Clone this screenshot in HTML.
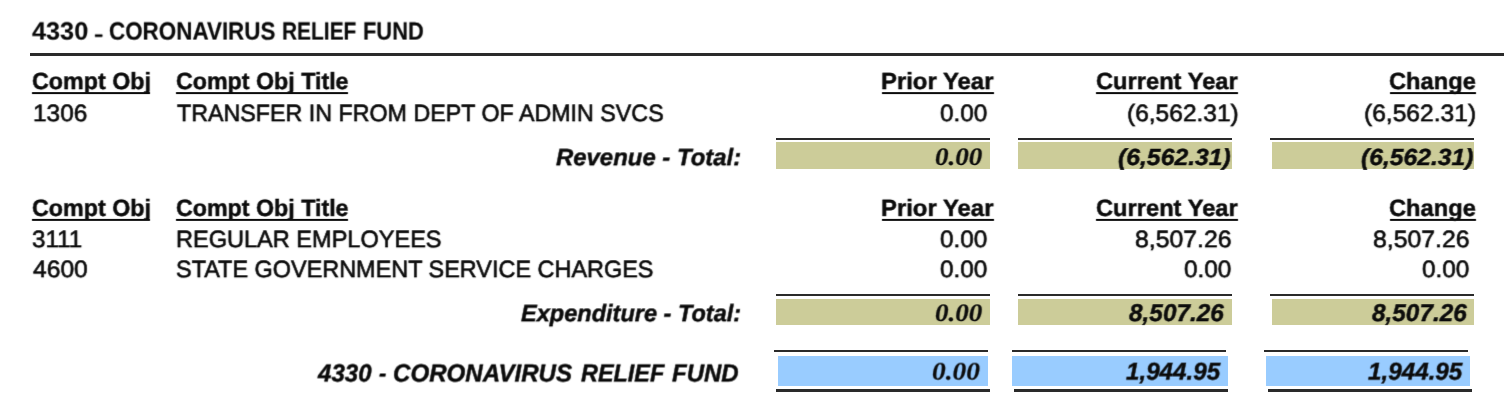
<!DOCTYPE html>
<html lang="en"><head><meta charset="utf-8"><title>4330 - CORONAVIRUS RELIEF FUND</title>
<style>
html,body{margin:0;padding:0;background:#fff;overflow:hidden}
#pg{position:relative;width:1504px;height:412px;overflow:hidden;background:#fff}
#pg s{position:absolute;display:block;text-decoration:none}
#pg b{display:inline-block;font-weight:inherit;transform-origin:0 0}
#pg div{position:absolute;left:0;top:0;width:1504px;height:412px}
#pg span{position:absolute;white-space:pre;transform-origin:0 0;line-height:1;color:#0b0b0b;font-kerning:none;text-rendering:geometricPrecision}
</style></head><body>
<svg width="0" height="0" style="position:absolute"><defs>
<filter id="v0" x="0" y="0" width="100%" height="100%" color-interpolation-filters="sRGB"><feConvolveMatrix order="3 2" kernelMatrix="0.1400 0.7200 0.1400 0.0000 0.0000 0.0000" targetX="1" targetY="1" edgeMode="none" preserveAlpha="false"/></filter>
<filter id="v1" x="0" y="0" width="100%" height="100%" color-interpolation-filters="sRGB"><feConvolveMatrix order="3 2" kernelMatrix="0.1260 0.6480 0.1260 0.0140 0.0720 0.0140" targetX="1" targetY="1" edgeMode="none" preserveAlpha="false"/></filter>
<filter id="v2" x="0" y="0" width="100%" height="100%" color-interpolation-filters="sRGB"><feConvolveMatrix order="3 2" kernelMatrix="0.1120 0.5760 0.1120 0.0280 0.1440 0.0280" targetX="1" targetY="1" edgeMode="none" preserveAlpha="false"/></filter>
<filter id="v3" x="0" y="0" width="100%" height="100%" color-interpolation-filters="sRGB"><feConvolveMatrix order="3 2" kernelMatrix="0.0980 0.5040 0.0980 0.0420 0.2160 0.0420" targetX="1" targetY="1" edgeMode="none" preserveAlpha="false"/></filter>
<filter id="v5" x="0" y="0" width="100%" height="100%" color-interpolation-filters="sRGB"><feConvolveMatrix order="3 2" kernelMatrix="0.0700 0.3600 0.0700 0.0700 0.3600 0.0700" targetX="1" targetY="1" edgeMode="none" preserveAlpha="false"/></filter>
<filter id="v6" x="0" y="0" width="100%" height="100%" color-interpolation-filters="sRGB"><feConvolveMatrix order="3 2" kernelMatrix="0.0560 0.2880 0.0560 0.0840 0.4320 0.0840" targetX="1" targetY="1" edgeMode="none" preserveAlpha="false"/></filter>
<filter id="v9" x="0" y="0" width="100%" height="100%" color-interpolation-filters="sRGB"><feConvolveMatrix order="3 2" kernelMatrix="0.0140 0.0720 0.0140 0.1260 0.6480 0.1260" targetX="1" targetY="1" edgeMode="none" preserveAlpha="false"/></filter>
</defs></svg>
<div id="pg">
<s style="left:30.20px;top:53.45px;width:1473.80px;height:2.60px;background:#2a2a2a"></s>
<s style="left:775.75px;top:137.60px;width:214.25px;height:2.60px;background:#2a2a2a"></s>
<s style="left:776.00px;top:142.25px;width:214.00px;height:27.00px;background:#cccc99"></s>
<s style="left:1017.75px;top:137.60px;width:214.00px;height:2.60px;background:#2a2a2a"></s>
<s style="left:1018.00px;top:142.25px;width:213.75px;height:27.00px;background:#cccc99"></s>
<s style="left:1270.25px;top:137.60px;width:204.00px;height:2.60px;background:#2a2a2a"></s>
<s style="left:1272.25px;top:142.25px;width:202.00px;height:27.00px;background:#cccc99"></s>
<s style="left:775.75px;top:293.60px;width:214.25px;height:2.60px;background:#2a2a2a"></s>
<s style="left:776.00px;top:298.50px;width:214.00px;height:26.70px;background:#cccc99"></s>
<s style="left:1017.75px;top:293.60px;width:214.00px;height:2.60px;background:#2a2a2a"></s>
<s style="left:1018.00px;top:298.50px;width:213.75px;height:26.70px;background:#cccc99"></s>
<s style="left:1270.25px;top:293.60px;width:204.00px;height:2.60px;background:#2a2a2a"></s>
<s style="left:1272.25px;top:298.50px;width:202.00px;height:26.70px;background:#cccc99"></s>
<s style="left:774.00px;top:349.70px;width:214.25px;height:2.60px;background:#2a2a2a"></s>
<s style="left:778.25px;top:356.00px;width:209.50px;height:29.50px;background:#99ccff"></s>
<s style="left:775.75px;top:389.45px;width:214.25px;height:2.60px;background:#2a2a2a"></s>
<s style="left:1012.00px;top:349.70px;width:214.00px;height:2.60px;background:#2a2a2a"></s>
<s style="left:1012.00px;top:356.00px;width:216.00px;height:29.50px;background:#99ccff"></s>
<s style="left:1014.00px;top:389.45px;width:214.00px;height:2.60px;background:#2a2a2a"></s>
<s style="left:1264.25px;top:349.70px;width:203.75px;height:2.60px;background:#2a2a2a"></s>
<s style="left:1266.25px;top:356.00px;width:203.75px;height:29.50px;background:#99ccff"></s>
<s style="left:1268.00px;top:389.45px;width:204.00px;height:2.60px;background:#2a2a2a"></s>
<div style="filter:url(#v6)">
<span style="left:31.95px;top:19.02px;-webkit-text-stroke:0.15px #0b0b0b;font:700 24.93px/1 'Liberation Sans', Arial, Helvetica, sans-serif"><b style="width:61.92px;transform:scaleX(1.0138)">4330 </b><b style="width:15.06px;transform:scaleX(1.4667);font-size:19.00px;-webkit-text-stroke-width:0.3px;position:relative;top:1px">- </b><b style="width:173.42px;transform:scaleX(0.8992)">CORONAVIRUS </b><b style="width:81.04px;transform:scaleX(0.8394)">RELIEF </b><b style="transform:scaleX(0.8779)">FUND</b></span>
</div>
<div style="filter:url(#v1)">
<span style="left:31.76px;top:69.95px;-webkit-text-stroke:0.45px #0b0b0b;font:700 23.47px/1 'Liberation Sans', Arial, Helvetica, sans-serif;transform:scaleX(0.9915)">Compt Obj</span>
<s style="left:32.20px;top:92.00px;width:117.60px;height:2px;background:#0b0b0b"></s>
<span style="left:175.51px;top:69.95px;-webkit-text-stroke:0.45px #0b0b0b;font:700 23.47px/1 'Liberation Sans', Arial, Helvetica, sans-serif;transform:scaleX(0.9899)">Compt Obj Title</span>
<s style="left:175.95px;top:92.00px;width:171.85px;height:2px;background:#0b0b0b"></s>
<span style="left:881.23px;top:69.95px;-webkit-text-stroke:0.45px #0b0b0b;font:700 23.47px/1 'Liberation Sans', Arial, Helvetica, sans-serif;transform:scaleX(1.0178)">Prior Year</span>
<s style="left:882.20px;top:92.00px;width:111.80px;height:2px;background:#0b0b0b"></s>
<span style="left:1095.54px;top:69.95px;-webkit-text-stroke:0.45px #0b0b0b;font:700 23.47px/1 'Liberation Sans', Arial, Helvetica, sans-serif;transform:scaleX(1.0089)">Current Year</span>
<s style="left:1096.00px;top:92.00px;width:141.60px;height:2px;background:#0b0b0b"></s>
<span style="left:1389.24px;top:69.95px;-webkit-text-stroke:0.45px #0b0b0b;font:700 23.47px/1 'Liberation Sans', Arial, Helvetica, sans-serif;transform:scaleX(1.0088)">Change</span>
<s style="left:1389.70px;top:92.00px;width:86.10px;height:2px;background:#0b0b0b"></s>
</div>
<div style="filter:url(#v2)">
<span style="left:33.46px;top:101.95px;-webkit-text-stroke:0.6px #0b0b0b;font:400 23.84px/1 'Liberation Sans', Arial, Helvetica, sans-serif;transform:scaleX(1.0246)">1306</span>
<span style="left:177.01px;top:101.95px;-webkit-text-stroke:0.6px #0b0b0b;font:400 23.84px/1 'Liberation Sans', Arial, Helvetica, sans-serif;transform:scaleX(0.9759)">TRANSFER IN FROM DEPT OF ADMIN SVCS</span>
<span style="left:940.24px;top:101.95px;-webkit-text-stroke:0.6px #0b0b0b;font:400 23.84px/1 'Liberation Sans', Arial, Helvetica, sans-serif;transform:scaleX(1.0221)">0.00</span>
<span style="left:1126.57px;top:101.95px;-webkit-text-stroke:0.6px #0b0b0b;font:400 23.84px/1 'Liberation Sans', Arial, Helvetica, sans-serif;transform:scaleX(1.0291)">(6,562.31)</span>
<span style="left:1364.27px;top:101.95px;-webkit-text-stroke:0.6px #0b0b0b;font:400 23.84px/1 'Liberation Sans', Arial, Helvetica, sans-serif;transform:scaleX(1.0319)">(6,562.31)</span>
</div>
<div style="filter:url(#v3)">
<span style="left:555.50px;top:146.01px;-webkit-text-stroke:0.45px #0b0b0b;font:italic 700 23.76px/1 'Liberation Sans', Arial, Helvetica, sans-serif;transform:scaleX(1.0068)">Revenue - Total:</span>
</div>
<div style="filter:url(#v0)">
<span style="left:934.94px;top:145.03px;-webkit-text-stroke:0.2px #0b0b0b;font:italic 700 25.20px/1 'Liberation Serif', 'Times New Roman', serif;transform:scaleX(1.0756)">0.00</span>
<span style="left:1118.22px;top:145.96px;-webkit-text-stroke:0.45px #0b0b0b;font:italic 700 23.18px/1 'Liberation Sans', Arial, Helvetica, sans-serif;transform:scaleX(1.0678)">(6,562.31)</span>
<span style="left:1360.97px;top:145.96px;-webkit-text-stroke:0.45px #0b0b0b;font:italic 700 23.18px/1 'Liberation Sans', Arial, Helvetica, sans-serif;transform:scaleX(1.0644)">(6,562.31)</span>
</div>
<div style="filter:url(#v9)">
<span style="left:31.76px;top:195.95px;-webkit-text-stroke:0.45px #0b0b0b;font:700 23.47px/1 'Liberation Sans', Arial, Helvetica, sans-serif;transform:scaleX(0.9915)">Compt Obj</span>
<s style="left:32.20px;top:218.00px;width:117.60px;height:2px;background:#0b0b0b"></s>
<span style="left:175.51px;top:195.95px;-webkit-text-stroke:0.45px #0b0b0b;font:700 23.47px/1 'Liberation Sans', Arial, Helvetica, sans-serif;transform:scaleX(0.9899)">Compt Obj Title</span>
<s style="left:175.95px;top:218.00px;width:171.85px;height:2px;background:#0b0b0b"></s>
<span style="left:881.23px;top:195.95px;-webkit-text-stroke:0.45px #0b0b0b;font:700 23.47px/1 'Liberation Sans', Arial, Helvetica, sans-serif;transform:scaleX(1.0178)">Prior Year</span>
<s style="left:882.20px;top:218.00px;width:111.80px;height:2px;background:#0b0b0b"></s>
<span style="left:1095.54px;top:195.95px;-webkit-text-stroke:0.45px #0b0b0b;font:700 23.47px/1 'Liberation Sans', Arial, Helvetica, sans-serif;transform:scaleX(1.0089)">Current Year</span>
<s style="left:1096.00px;top:218.00px;width:141.60px;height:2px;background:#0b0b0b"></s>
<span style="left:1389.24px;top:195.95px;-webkit-text-stroke:0.45px #0b0b0b;font:700 23.47px/1 'Liberation Sans', Arial, Helvetica, sans-serif;transform:scaleX(1.0088)">Change</span>
<s style="left:1389.70px;top:218.00px;width:86.10px;height:2px;background:#0b0b0b"></s>
</div>
<div style="filter:url(#v2)">
<span style="left:32.49px;top:227.95px;-webkit-text-stroke:0.6px #0b0b0b;font:400 23.84px/1 'Liberation Sans', Arial, Helvetica, sans-serif;transform:scaleX(1.0155)">3111</span>
<span style="left:176.02px;top:227.95px;-webkit-text-stroke:0.6px #0b0b0b;font:400 23.84px/1 'Liberation Sans', Arial, Helvetica, sans-serif;transform:scaleX(0.9878)">REGULAR EMPLOYEES</span>
<span style="left:940.24px;top:227.95px;-webkit-text-stroke:0.6px #0b0b0b;font:400 23.84px/1 'Liberation Sans', Arial, Helvetica, sans-serif;transform:scaleX(1.0221)">0.00</span>
<span style="left:1135.22px;top:227.95px;-webkit-text-stroke:0.6px #0b0b0b;font:400 23.84px/1 'Liberation Sans', Arial, Helvetica, sans-serif;transform:scaleX(1.0411)">8,507.26</span>
<span style="left:1373.22px;top:227.95px;-webkit-text-stroke:0.6px #0b0b0b;font:400 23.84px/1 'Liberation Sans', Arial, Helvetica, sans-serif;transform:scaleX(1.0411)">8,507.26</span>
</div>
<div style="filter:url(#v2)">
<span style="left:32.74px;top:257.95px;-webkit-text-stroke:0.6px #0b0b0b;font:400 23.84px/1 'Liberation Sans', Arial, Helvetica, sans-serif;transform:scaleX(1.0335)">4600</span>
<span style="left:176.26px;top:257.95px;-webkit-text-stroke:0.6px #0b0b0b;font:400 23.84px/1 'Liberation Sans', Arial, Helvetica, sans-serif;transform:scaleX(0.9835)">STATE GOVERNMENT SERVICE CHARGES</span>
<span style="left:940.24px;top:257.95px;-webkit-text-stroke:0.6px #0b0b0b;font:400 23.84px/1 'Liberation Sans', Arial, Helvetica, sans-serif;transform:scaleX(1.0221)">0.00</span>
<span style="left:1184.24px;top:257.95px;-webkit-text-stroke:0.6px #0b0b0b;font:400 23.84px/1 'Liberation Sans', Arial, Helvetica, sans-serif;transform:scaleX(1.0221)">0.00</span>
<span style="left:1422.24px;top:257.95px;-webkit-text-stroke:0.6px #0b0b0b;font:400 23.84px/1 'Liberation Sans', Arial, Helvetica, sans-serif;transform:scaleX(1.0221)">0.00</span>
</div>
<div style="filter:url(#v3)">
<span style="left:521.25px;top:302.01px;-webkit-text-stroke:0.45px #0b0b0b;font:italic 700 23.76px/1 'Liberation Sans', Arial, Helvetica, sans-serif;transform:scaleX(0.9910)">Expenditure - Total:</span>
</div>
<div style="filter:url(#v1)">
<span style="left:934.94px;top:301.03px;-webkit-text-stroke:0.2px #0b0b0b;font:italic 700 25.20px/1 'Liberation Serif', 'Times New Roman', serif;transform:scaleX(1.0756)">0.00</span>
<span style="left:1129.20px;top:301.97px;-webkit-text-stroke:0.45px #0b0b0b;font:italic 700 24.49px/1 'Liberation Sans', Arial, Helvetica, sans-serif;transform:scaleX(0.9953)">8,507.26</span>
<span style="left:1372.00px;top:301.97px;-webkit-text-stroke:0.45px #0b0b0b;font:italic 700 24.49px/1 'Liberation Sans', Arial, Helvetica, sans-serif;transform:scaleX(0.9943)">8,507.26</span>
</div>
<div style="filter:url(#v5)">
<span style="left:317.93px;top:361.97px;-webkit-text-stroke:0.45px #0b0b0b;font:italic 700 24.78px/1 'Liberation Sans', Arial, Helvetica, sans-serif"><b style="width:61.45px;transform:scaleX(0.9714)">4330 </b><b style="width:14.05px;transform:scaleX(0.8800)">- </b><b style="width:187.57px;transform:scaleX(0.9738)">CORONAVIRUS </b><b style="width:90.60px;transform:scaleX(0.9461)">RELIEF </b><b style="transform:scaleX(0.9693)">FUND</b></span>
</div>
<div style="filter:url(#v6)">
<span style="left:932.43px;top:359.03px;-webkit-text-stroke:0.2px #0b0b0b;font:italic 700 25.20px/1 'Liberation Serif', 'Times New Roman', serif;transform:scaleX(1.0872)">0.00</span>
<span style="left:1125.80px;top:359.97px;-webkit-text-stroke:0.45px #0b0b0b;font:italic 700 24.49px/1 'Liberation Sans', Arial, Helvetica, sans-serif;transform:scaleX(0.9875)">1,944.95</span>
<span style="left:1368.00px;top:359.97px;-webkit-text-stroke:0.45px #0b0b0b;font:italic 700 24.49px/1 'Liberation Sans', Arial, Helvetica, sans-serif;transform:scaleX(0.9896)">1,944.95</span>
</div>
</div>
</body></html>
